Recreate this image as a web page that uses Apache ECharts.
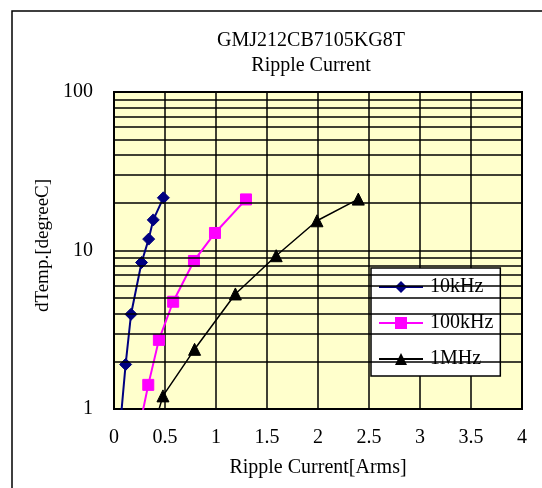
<!DOCTYPE html>
<html>
<head>
<meta charset="utf-8">
<script src="https://cdn.jsdelivr.net/npm/echarts@6/dist/echarts.min.js"></script>
<style>html,body{margin:0;padding:0;background:#fff;}#c{width:542px;height:488px;}</style>
</head>
<body>
<div id="c"></div>
<script>
// ---- data ----
var titleLines = ['GMJ212CB7105KG8T', 'Ripple Current'];
var xName = 'Ripple Current[Arms]';
var yName = 'dTemp.[degreeC]';
var seriesNames = ['10kHz', '100kHz', '1MHz'];

var x10k = [0.06, 0.114, 0.167, 0.27, 0.34, 0.385, 0.484];
var y10k = [0.78, 1.91, 3.96, 8.4, 11.8, 15.6, 21.5];

var x100k = [0.25, 0.336, 0.44, 0.58, 0.784, 0.99, 1.294];
var y100k = [0.77, 1.42, 2.73, 4.75, 8.59, 12.9, 21.0];

var x1M = [0.4, 0.48, 0.79, 1.19, 1.59, 1.99, 2.395];
var y1M = [0.81, 1.21, 2.38, 5.32, 9.27, 15.4, 21.1];

var xMin = 0, xMax = 4, xStep = 0.5;
var yMin = 1, yMax = 100;
var minorGridValues = [2, 3, 4, 5, 6, 7, 8, 9, 20, 30, 40, 50, 60, 70, 80, 90];

function pairs(xs, ys) { return xs.map(function (x, i) { return [x, ys[i]]; }); }

var FONT = 'Liberation Serif';
var chart = echarts.init(document.getElementById('c'), null, { renderer: 'canvas' });

var option = {
  backgroundColor: '#ffffff',
  animation: false,
  textStyle: { fontFamily: FONT, color: '#000' },
  graphic: [
    { type: 'rect', shape: { x: 12, y: 11, width: 700, height: 700 }, style: { fill: 'none', stroke: '#000', lineWidth: 1.5 }, z: 0 },
    { type: 'text', x: 311, y: 41, style: { text: titleLines[0], font: '20px "Liberation Serif"', fill: '#000', textAlign: 'center', textVerticalAlign: 'middle' } },
    { type: 'text', x: 311, y: 66, style: { text: titleLines[1], font: '20px "Liberation Serif"', fill: '#000', textAlign: 'center', textVerticalAlign: 'middle' } }
  ],
  grid: {
    left: 114, top: 92, width: 408, height: 317,
    show: true, backgroundColor: '#FFFFCC', borderColor: '#000', borderWidth: 2
  },
  legend: {
    data: seriesNames,
    orient: 'vertical',
    left: 371, top: 268,
    padding: [9, 7, 7, 7],
    itemWidth: 44, itemHeight: 15, itemGap: 16,
    backgroundColor: '#fff', borderColor: '#000', borderWidth: 1.5,
    textStyle: { fontFamily: FONT, fontSize: 20, color: '#000', padding: [0, 0, 0, 2] }
  },
  xAxis: {
    type: 'value', min: xMin, max: xMax, interval: xStep,
    name: xName, nameLocation: 'middle', nameGap: 49,
    nameTextStyle: { fontFamily: FONT, fontSize: 20, color: '#000' },
    axisLine: { show: false }, axisTick: { show: false },
    axisLabel: { fontFamily: FONT, fontSize: 20, color: '#000', margin: 19 },
    splitLine: { show: true, lineStyle: { color: '#000', width: 1.5 } }
  },
  yAxis: {
    type: 'log', logBase: 10, min: yMin, max: yMax,
    name: yName, nameLocation: 'middle', nameGap: 55,
    nameTextStyle: { fontFamily: FONT, fontSize: 19, color: '#000', padding: [0, 0, 0, 10] },
    axisLine: { show: false }, axisTick: { show: false },
    axisLabel: { fontFamily: FONT, fontSize: 20, color: '#000', margin: 21 },
    splitLine: { show: true, lineStyle: { color: '#000', width: 1.5 } }
  },
  series: [
    {
      name: 'minor-grid', type: 'line', data: [], z: 1, silent: true,
      markLine: {
        silent: true, symbol: 'none', animation: false,
        label: { show: false },
        lineStyle: { color: '#000', width: 1.5, type: 'solid' },
        emphasis: { disabled: true },
        data: minorGridValues.map(function (v) { return { yAxis: v }; })
      }
    },
    {
      name: seriesNames[0], type: 'line', data: pairs(x10k, y10k), z: 3,
      symbol: 'diamond', symbolSize: 12, showAllSymbol: true,
      lineStyle: { color: '#000080', width: 2 },
      itemStyle: { color: '#000080', borderColor: '#000080' }
    },
    {
      name: seriesNames[1], type: 'line', data: pairs(x100k, y100k), z: 3,
      symbol: 'rect', symbolSize: 11, showAllSymbol: true,
      lineStyle: { color: '#FF00FF', width: 2 },
      itemStyle: { color: '#FF00FF', borderColor: '#FF00FF' }
    },
    {
      name: seriesNames[2], type: 'line', data: pairs(x1M, y1M), z: 3,
      symbol: 'triangle', symbolSize: 12, showAllSymbol: true,
      lineStyle: { color: '#000000', width: 1.5 },
      itemStyle: { color: '#000000', borderColor: '#000000' }
    }
  ]
};
chart.setOption(option);
</script>
</body>
</html>
